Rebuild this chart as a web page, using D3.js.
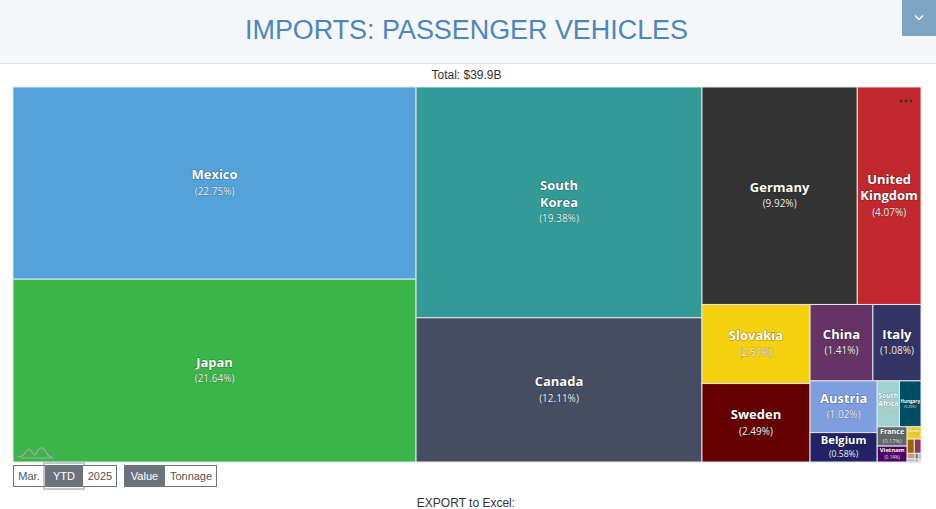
<!DOCTYPE html>
<html><head><meta charset="utf-8">
<script src="https://cdn.jsdelivr.net/npm/d3@7"></script>
<style>body{margin:0;background:#fff;overflow:hidden} svg{display:block}</style>
</head><body>
<svg id="c" width="936" height="509"></svg>
<script>
// ---- data ----
const chartTitle = "IMPORTS: PASSENGER VEHICLES";
const totalLabel = "Total: $39.9B";
const countries = ["Mexico","Japan","South Korea","Canada","Germany","United Kingdom","Slovakia","Sweden","China","Italy","Austria","Belgium","South Africa","Hungary","France","Vietnam","Taiwan","Finland","Netherlands","Spain","Portugal","India","Thailand","Turkey","Others"];
const shares = [22.75,21.64,19.38,12.11,9.92,4.07,2.51,2.49,1.41,1.08,1.02,0.58,0.30,0.29,0.17,0.14,0.05,0.03,0.028,0.012,0.008,0.006,0.004,0.003,0.002];
const colors = ["#53a2db","#3bb44a","#339a97","#454d63","#333333","#c1272d","#f5d10f","#650000","#663366","#333366","#7f9ee0","#222266","#9fd2d0","#004d66","#666666","#4d0066","#f5d10f","#996600","#993355","#e88f72","#a8c8e8","#6b7fa3","#c9a0dc","#8fbf8f","#d9d9d9"];
const periodButtons = ["Mar.","YTD","2025"];
const measureButtons = ["Value","Tonnage"];
const activePeriod = "YTD", activeMeasure = "Value";
const exportLabel = "EXPORT to Excel:";
const iconShape = [[0,11],[5,10],[9,6],[12,3],[15,6],[18,9],[21,4],[24,2],[27,3],[29,6],[32,10],[35,11]];

// ---- drawing ----
const svg = d3.select("#c");
const W = 936;

// header
svg.append("rect").attr("x",0).attr("y",0).attr("width",W).attr("height",63).attr("fill","#f6f7f9");
svg.append("line").attr("x1",0).attr("x2",W).attr("y1",63.5).attr("y2",63.5).attr("stroke","#dfe2e6");
svg.append("text").attr("x",466.5).attr("y",39).attr("text-anchor","middle")
  .attr("font-family","'Liberation Sans', Arial, sans-serif").attr("font-size",26.8)
  .attr("fill","#4a86bf").attr("textLength",443).attr("lengthAdjust","spacingAndGlyphs").text(chartTitle);
svg.append("rect").attr("x",902).attr("y",0).attr("width",34).attr("height",36).attr("fill","#7ea6c2");
svg.append("path").attr("d",d3.line()([[915,15.5],[919,19.5],[923,15.5]])).attr("fill","none").attr("stroke","#fff").attr("stroke-width",1.4);

svg.append("text").attr("x",466.5).attr("y",79).attr("text-anchor","middle")
  .attr("font-family","'Liberation Sans', Arial, sans-serif").attr("font-size",12).attr("fill","#333").text(totalLabel);

// treemap
const X0 = 13, Y0 = 87, TW = 908, TH = 375;
const root = d3.hierarchy({children: countries.map((c,i)=>({name:c, value:shares[i], color:colors[i]}))})
  .sum(d=>d.value||0).sort((a,b)=>b.value-a.value);
d3.treemap().tile(d3.treemapSquarify).size([TW,TH]).round(false)(root);
const total = root.value;

const g = svg.append("g").attr("transform",`translate(${X0},${Y0})`);
const cells = g.selectAll("g.cell").data(root.leaves()).join("g").attr("class","cell");
cells.append("rect")
  .attr("x",d=>d.x0).attr("y",d=>d.y0)
  .attr("width",d=>Math.max(0,d.x1-d.x0)).attr("height",d=>Math.max(0,d.y1-d.y0))
  .attr("fill",d=>d.data.color).attr("stroke","#e6e6e6").attr("stroke-width",1);

// measuring helper
const meas = svg.append("text").attr("font-family","'Open Sans', sans-serif").attr("visibility","hidden");
function tw(txt, size, weight){ meas.attr("font-size",size).attr("font-weight",weight).text(txt); return meas.node().getComputedTextLength(); }

root.leaves().forEach(d=>{
  const w = d.x1-d.x0, h = d.y1-d.y0;
  const lines = d.data.name.split(" ");
  const pct = "(" + (d.value/total*100).toFixed(2) + "%)";
  const maxW = Math.max(...lines.map(l=>tw(l,13,"bold")), tw(pct,10,"normal"));
  const lhBase = 16.5;
  const blockH = (lines.length+1)*lhBase;
  const s = Math.min(1, (w-2)/maxW, (h-1)/blockH);
  if (13*s < 3) return;
  const lh = lhBase*s;
  const cx = X0 + (d.x0+d.x1)/2, cy = Y0 + (d.y0+d.y1)/2;
  const start = cy - (lines.length+1)*lh/2 + lh/2;
  const t = svg.append("g").attr("font-family","'Open Sans', sans-serif").attr("text-anchor","middle");
  lines.forEach((l,i)=>{
    t.append("text").attr("x",cx).attr("y",start+i*lh).attr("dy","0.35em")
      .attr("font-size",13*s).attr("font-weight","bold").attr("fill","#fff")
      .attr("stroke","rgba(0,0,0,0.35)").attr("stroke-width",1.2*s).attr("paint-order","stroke")
      .text(l);
  });
  t.append("text").attr("x",cx).attr("y",start+lines.length*lh).attr("dy","0.35em")
    .attr("font-size",10*s).attr("fill","#f2f2f2")
    .attr("stroke","rgba(0,0,0,0.25)").attr("stroke-width",1*s).attr("paint-order","stroke")
    .text(pct);
});

// menu dots
svg.selectAll("circle.dot").data(d3.range(3)).join("circle").attr("class","dot")
  .attr("cx",i=>901+i*5).attr("cy",101).attr("r",1.4).attr("fill","#333");

// small sparkline icon
const icon = svg.append("g").attr("transform","translate(17,446)");
icon.append("path").attr("d",d3.line().curve(d3.curveCatmullRom)(iconShape)).attr("fill","none").attr("stroke","#a8a8a8").attr("stroke-width",1.2);
icon.append("line").attr("x1",4).attr("x2",37).attr("y1",12).attr("y2",12).attr("stroke","#a8a8a8").attr("stroke-width",1);

// buttons
function buttonGroup(labels, widths, x, active, ring){
  let cx = x;
  const y = 465, h = 22;
  const total = d3.sum(widths);
  labels.forEach((lab,i)=>{
    const bw = widths[i];
    const on = lab===active;
    if (on && ring) svg.append("rect").attr("x",cx-1).attr("y",y-2).attr("width",bw+2).attr("height",h+4)
      .attr("fill","none").attr("stroke","#c3c7cb").attr("stroke-width",2);
    svg.append("rect").attr("x",cx).attr("y",y).attr("width",bw).attr("height",h)
      .attr("fill", on ? "#6c737d" : "#fff");
    svg.append("text").attr("x",cx+bw/2).attr("y",y+15).attr("text-anchor","middle")
      .attr("font-family","'Liberation Sans', Arial, sans-serif").attr("font-size",11)
      .attr("fill", on ? "#fff" : "#555").text(lab);
    cx += bw;
  });
  svg.append("rect").attr("x",x+0.5).attr("y",y+0.5).attr("width",total-1).attr("height",h-1)
    .attr("fill","none").attr("stroke","#6c757d").attr("stroke-width",1);
}
buttonGroup(periodButtons,[32,38,34],13,activePeriod,true);
buttonGroup(measureButtons,[41,52],124,activeMeasure,false);

svg.append("text").attr("x",466).attr("y",507).attr("text-anchor","middle")
  .attr("font-family","'Liberation Sans', Arial, sans-serif").attr("font-size",12).attr("fill","#333").text(exportLabel);
</script>
</body></html>
